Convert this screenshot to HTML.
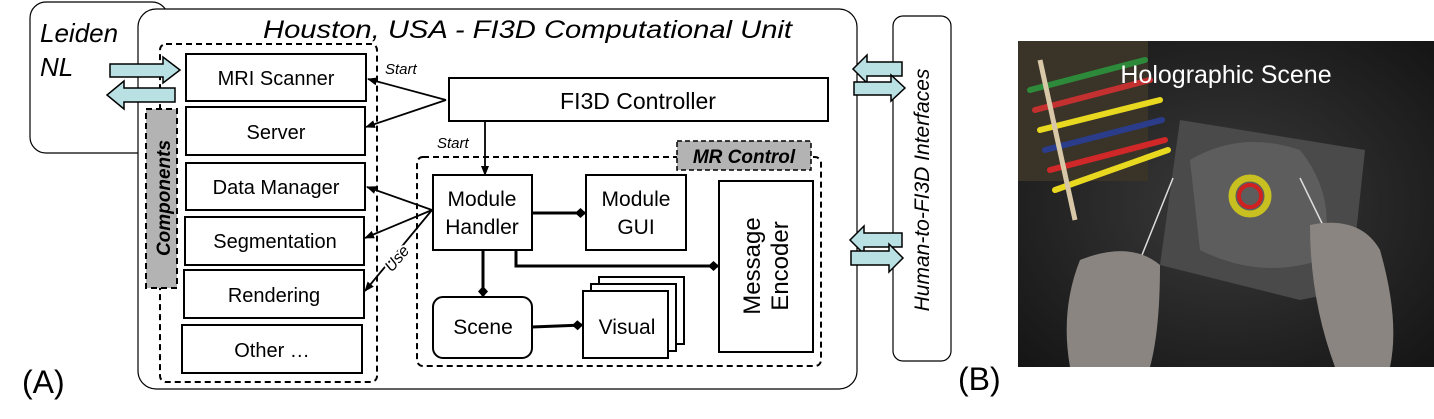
<!DOCTYPE html>
<html><head><style>html,body{margin:0;padding:0;background:#fff}svg{display:block}</style></head>
<body>
<svg width="1434" height="419" viewBox="0 0 1434 419" xmlns="http://www.w3.org/2000/svg" font-family="Liberation Sans, Arial, sans-serif">
<defs>
<marker id="ah" markerWidth="10" markerHeight="10" refX="9" refY="5" orient="auto" markerUnits="userSpaceOnUse"><path d="M0,1 L10,5 L0,9 Z" fill="#000"/></marker>
<marker id="dm" markerWidth="12" markerHeight="12" refX="11" refY="6" orient="auto" markerUnits="userSpaceOnUse"><path d="M0,6 L5.5,1 L11,6 L5.5,11 Z" fill="#000"/></marker>
<radialGradient id="bg" cx="0.5" cy="0.5" r="0.7"><stop offset="0" stop-color="#3a3a3a"/><stop offset="1" stop-color="#151515"/></radialGradient>
</defs>
<rect x="30" y="2" width="138" height="151" rx="16" fill="#fff" stroke="#000" stroke-width="1.2"/>
<text x="40" y="42" font-size="26" font-style="italic">Leiden</text>
<text x="40" y="76" font-size="26" font-style="italic">NL</text>
<rect x="138" y="9" width="719" height="380" rx="18" fill="#fff" stroke="#000" stroke-width="1.2"/>
<text x="263" y="38" font-size="25" font-style="italic" textLength="529" lengthAdjust="spacingAndGlyphs">Houston, USA - FI3D Computational Unit</text>
<rect x="160" y="44" width="217" height="338" rx="6" fill="none" stroke="#000" stroke-width="2" stroke-dasharray="6,4"/>
<rect x="146" y="109" width="31" height="179" fill="#b3b3b3" stroke="#000" stroke-width="2" stroke-dasharray="6,4"/>
<text transform="translate(170,198) rotate(-90)" text-anchor="middle" font-size="19" font-weight="bold" font-style="italic">Components</text>
<g fill="#fff" stroke="#000" stroke-width="2">
<rect x="186" y="54" width="180" height="47"/>
<rect x="186" y="107" width="179" height="48"/>
<rect x="186" y="163" width="179" height="47"/>
<rect x="185" y="217" width="179" height="48"/>
<rect x="184" y="270" width="180" height="48"/>
<rect x="182" y="325" width="180" height="48"/>
</g>
<g font-size="20" text-anchor="middle">
<text x="276" y="85">MRI Scanner</text>
<text x="276" y="139">Server</text>
<text x="276" y="194">Data Manager</text>
<text x="275" y="248">Segmentation</text>
<text x="274" y="302">Rendering</text>
<text x="272" y="357">Other …</text>
</g>
<g fill="#b9e0e2" stroke="#000" stroke-width="1.5">
<path d="M110,64 L163,64 L163,57 L180,70 L163,83 L163,77 L110,77 Z"/>
<path d="M175,88 L124,88 L124,81 L107,95 L124,109 L124,102 L175,102 Z"/>
</g>
<rect x="449" y="78" width="379" height="43" fill="#fff" stroke="#000" stroke-width="2"/>
<text x="638" y="109" font-size="23" text-anchor="middle">FI3D Controller</text>
<g stroke="#000" stroke-width="1.8" fill="none">
<line x1="446" y1="100" x2="368" y2="79" marker-end="url(#ah)"/>
<line x1="446" y1="100" x2="366" y2="127" marker-end="url(#ah)"/>
<line x1="485" y1="121" x2="485" y2="175" marker-end="url(#ah)"/>
</g>
<text x="385" y="74" font-size="15" font-style="italic">Start</text>
<text x="437" y="148" font-size="15" font-style="italic">Start</text>
<rect x="417" y="157" width="404" height="209" rx="6" fill="none" stroke="#000" stroke-width="2" stroke-dasharray="6,4"/>
<rect x="677" y="141" width="134" height="29" fill="#b3b3b3" stroke="#000" stroke-width="1.5" stroke-dasharray="5,3"/>
<text x="744" y="163" font-size="19" font-weight="bold" font-style="italic" text-anchor="middle">MR Control</text>
<g fill="#fff" stroke="#000" stroke-width="2">
<rect x="433" y="175" width="99" height="75"/>
<rect x="586" y="175" width="100" height="75"/>
<rect x="719" y="181" width="94" height="171"/>
<rect x="433" y="297" width="99" height="61" rx="10"/>
<rect x="599" y="277" width="85" height="67"/>
<rect x="591" y="284" width="85" height="67"/>
<rect x="583" y="291" width="85" height="67"/>
</g>
<g font-size="21" text-anchor="middle">
<text x="482" y="206">Module</text>
<text x="482" y="234">Handler</text>
<text x="636" y="206">Module</text>
<text x="636" y="234">GUI</text>
<text x="483" y="334">Scene</text>
<text x="627" y="334">Visual</text>
</g>
<text transform="translate(766,266) rotate(-90)" font-size="24" text-anchor="middle"><tspan x="0" y="-6">Message</tspan><tspan x="0" y="22">Encoder</tspan></text>
<g stroke="#000" stroke-width="3" fill="none">
<line x1="532" y1="213" x2="586" y2="213" marker-end="url(#dm)"/>
<path d="M516,250 L516,266 L719,266" marker-end="url(#dm)"/>
<line x1="483" y1="250" x2="483" y2="297" marker-end="url(#dm)"/>
<line x1="532" y1="327" x2="583" y2="325" marker-end="url(#dm)"/>
</g>
<g stroke="#000" stroke-width="1.8" fill="none">
<line x1="432" y1="210" x2="367" y2="187" marker-end="url(#ah)"/>
<line x1="432" y1="210" x2="365" y2="238" marker-end="url(#ah)"/>
<line x1="432" y1="210" x2="365" y2="291" marker-end="url(#ah)"/>
</g>
<text transform="translate(401,262) rotate(-50)" font-size="16" font-style="italic" text-anchor="middle" stroke="#fff" stroke-width="4" paint-order="stroke">Use</text>
<rect x="893" y="16" width="58" height="345" rx="10" fill="#fff" stroke="#000" stroke-width="1.2"/>
<text transform="translate(929,190) rotate(-90)" font-size="21" font-style="italic" text-anchor="middle">Human-to-FI3D Interfaces</text>
<g fill="#b9e0e2" stroke="#000" stroke-width="1.5">
<path d="M902,62 L867,62 L867,55 L853,69 L867,83 L867,76 L902,76 Z"/>
<path d="M854,82 L891,82 L891,75 L905,88 L891,101 L891,95 L854,95 Z"/>
<path d="M902,233 L864,233 L864,226 L850,240 L864,254 L864,247 L902,247 Z"/>
<path d="M851,251 L889,251 L889,244 L903,258 L889,272 L889,265 L851,265 Z"/>
</g>
<text x="22" y="393" font-size="32">(A)</text>
<text x="958" y="390" font-size="32">(B)</text>
<g>
<rect x="1018" y="41" width="416" height="326" fill="url(#bg)"/>
<rect x="1018" y="41" width="130" height="140" fill="#3a3328"/>
<g stroke-width="6" stroke-linecap="round">
<line x1="1030" y1="90" x2="1145" y2="60" stroke="#2d8a3a"/>
<line x1="1035" y1="110" x2="1150" y2="80" stroke="#c23030"/>
<line x1="1040" y1="130" x2="1160" y2="100" stroke="#e8d820"/>
<line x1="1045" y1="150" x2="1162" y2="120" stroke="#2a3c8a"/>
<line x1="1050" y1="170" x2="1165" y2="140" stroke="#d02828"/>
<line x1="1055" y1="190" x2="1168" y2="150" stroke="#e8d820"/>
</g>
<line x1="1040" y1="60" x2="1075" y2="220" stroke="#d8c8a8" stroke-width="5"/>
<polygon points="1180,120 1365,150 1350,290 1300,300 1160,265" fill="#4a4a4a"/>
<path d="M1190,160 Q1240,130 1300,150 Q1340,200 1320,260 Q1260,280 1200,250 Z" fill="#6a6a6a" opacity="0.6"/>
<circle cx="1250" cy="196" r="18" fill="none" stroke="#c8c020" stroke-width="7"/>
<circle cx="1250" cy="196" r="11" fill="none" stroke="#d02020" stroke-width="4"/>
<line x1="1173" y1="178" x2="1140" y2="260" stroke="#ddd" stroke-width="1.5"/>
<line x1="1300" y1="178" x2="1335" y2="250" stroke="#ddd" stroke-width="1.5"/>
<path d="M1080,260 Q1130,240 1160,265 Q1160,330 1150,367 L1070,367 Q1060,310 1080,260 Z" fill="#8a8580"/>
<path d="M1310,225 Q1360,215 1380,250 Q1400,320 1390,367 L1335,367 Q1310,300 1310,225 Z" fill="#8a8580"/>
<text x="1226" y="83" font-size="25" fill="#fff" text-anchor="middle">Holographic Scene</text>
</g>
</svg>
</body></html>
